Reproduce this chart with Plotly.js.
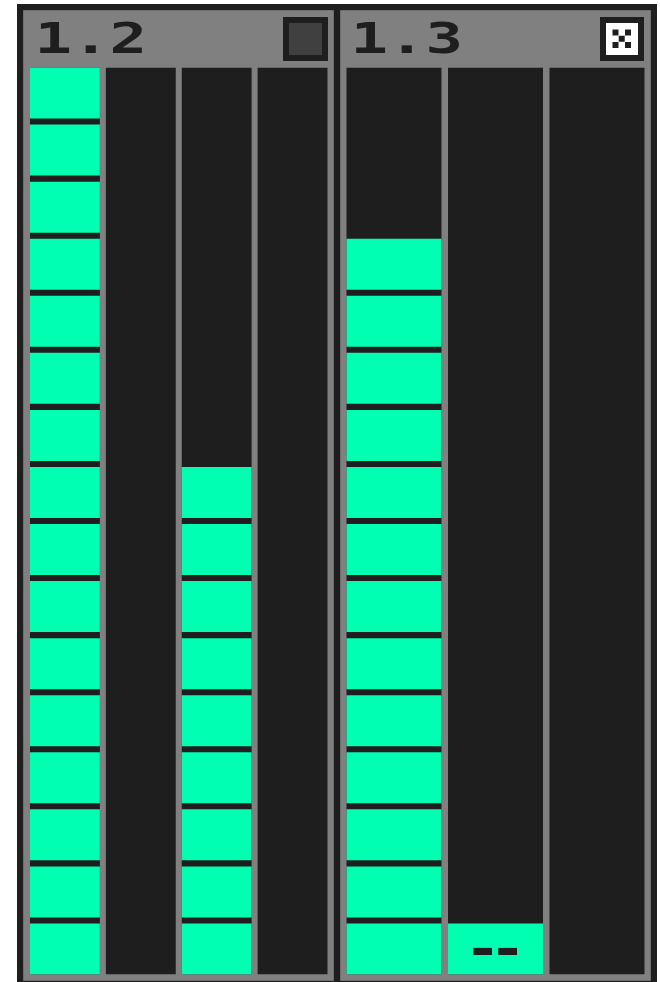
<!DOCTYPE html>
<html>
<head>
<meta charset="utf-8">
<script src="https://cdn.plot.ly/plotly-3.0.1.min.js"></script>
<style>
html,body{margin:0;padding:0;background:#fff;}
#chart{width:660px;height:982px;}
</style>
</head>
<body>
<div id="chart"></div>
<script>
// Data
const panelTitles = ["1.2", "1.3"];
const columnsLeft = [0, 1, 2, 3];
const columnsRight = [0, 1, 2];
const levelsLeft = [16, 0, 9, 0];
const levelsRight = [13, 1, 0];
const cellLabelText = "--";

// Style constants
const W = 660, H = 982;
const DARK = "#1e1e1e", GRAY = "#808080", EDGE = "#6e6e6e", GREEN = "#00ffb0";
const px = v => v / W;
const py = v => 1 - v / H;
const TOP = 16 - 6 / 57;        // top of the column in level units
const SEG = 51 / 57;            // lit part of a level

function traces(cols, levels, xa, width) {
  const sx = [], sb = [], sy = [];
  cols.forEach((c, i) => {
    for (let k = 0; k < levels[i]; k++) { sx.push(c); sb.push(k); sy.push(SEG); }
  });
  return [
    {type: "bar", x: cols, y: cols.map(() => TOP), base: cols.map(() => 0), width: width,
     xaxis: xa, yaxis: "y", marker: {color: DARK, line: {width: 0}}, hoverinfo: "skip", showlegend: false},
    {type: "bar", x: sx, y: sy, base: sb, width: width,
     xaxis: xa, yaxis: "y", marker: {color: GREEN, line: {width: 0}}, hoverinfo: "skip", showlegend: false}
  ];
}

const data = [
  ...traces(columnsLeft, levelsLeft, "x", 70 / 76),
  ...traces(columnsRight, levelsRight, "x2", 95 / 101.5)
];

function rect(x0, y0, x1, y1, color, line) {
  return {type: "rect", xref: "paper", yref: "paper", layer: "below",
    x0: px(x0), x1: px(x1), y0: py(y1), y1: py(y0),
    fillcolor: color, line: line ? {color: line, width: 1} : {width: 0}};
}

const shapes = [
  rect(17, 4, 657, 982, DARK),
  rect(23.5, 10.5, 333.5, 980.5, GRAY, EDGE),
  rect(340.5, 10.5, 650.5, 980.5, GRAY, EDGE),
  rect(283, 17, 328, 61, DARK),
  rect(289, 23, 322, 55, "#404040"),
  rect(600, 17, 644, 61, DARK),
  rect(606, 23, 638, 55, "#ffffff"),
  rect(612.5, 29.5, 618.5, 35.5, DARK),
  rect(625, 29.5, 631, 35.5, DARK),
  rect(618.75, 35.75, 624.75, 41.75, DARK),
  rect(612.5, 42, 618.5, 48, DARK),
  rect(625, 42, 631, 48, DARK)
];

const titleFont = {family: "DejaVu Sans Mono", size: 43, color: DARK, weight: 700};
const annotations = [
  {xref: "paper", yref: "paper", x: px(91), y: py(38), text: panelTitles[0], showarrow: false,
   xanchor: "center", yanchor: "middle", font: titleFont},
  {xref: "paper", yref: "paper", x: px(406.5), y: py(38), text: panelTitles[1], showarrow: false,
   xanchor: "center", yanchor: "middle", font: titleFont},
  {xref: "x2", yref: "y", x: columnsRight[1], y: 0.447, text: cellLabelText, showarrow: false,
   xanchor: "center", yanchor: "middle",
   font: {family: "DejaVu Sans Mono", size: 50, color: DARK, weight: 700}}
];

const hidden = {visible: false, fixedrange: true};
const layout = {
  width: W, height: H,
  margin: {l: 0, r: 0, t: 0, b: 0, pad: 0},
  paper_bgcolor: "#ffffff", plot_bgcolor: "rgba(0,0,0,0)",
  barmode: "overlay", showlegend: false,
  xaxis: {...hidden, domain: [px(27), px(330.5)], range: [-0.5, 3.5]},
  xaxis2: {...hidden, domain: [px(343.25), px(647.75)], range: [-0.5, 2.5], anchor: "y"},
  yaxis: {...hidden, domain: [py(974.5), py(67.5)], range: [0, TOP]},
  shapes, annotations
};

Plotly.newPlot("chart", data, layout, {staticPlot: true, displayModeBar: false}).then(() => {
  document.querySelectorAll(".annotation-text").forEach(t => {
    const box = t.getBBox();
    const cx = box.x + box.width / 2;
    if (t.textContent.includes(".")) {
      t.setAttribute("transform", `translate(${cx} 0) scale(1.45 1) translate(${-cx} 0)`);
    } else {
      t.style.letterSpacing = "-9.5px";
      t.setAttribute("transform", `translate(${cx} 0) scale(1.22 1) translate(${-cx - 4.75} 0)`);
    }
  });
});
</script>
</body>
</html>
